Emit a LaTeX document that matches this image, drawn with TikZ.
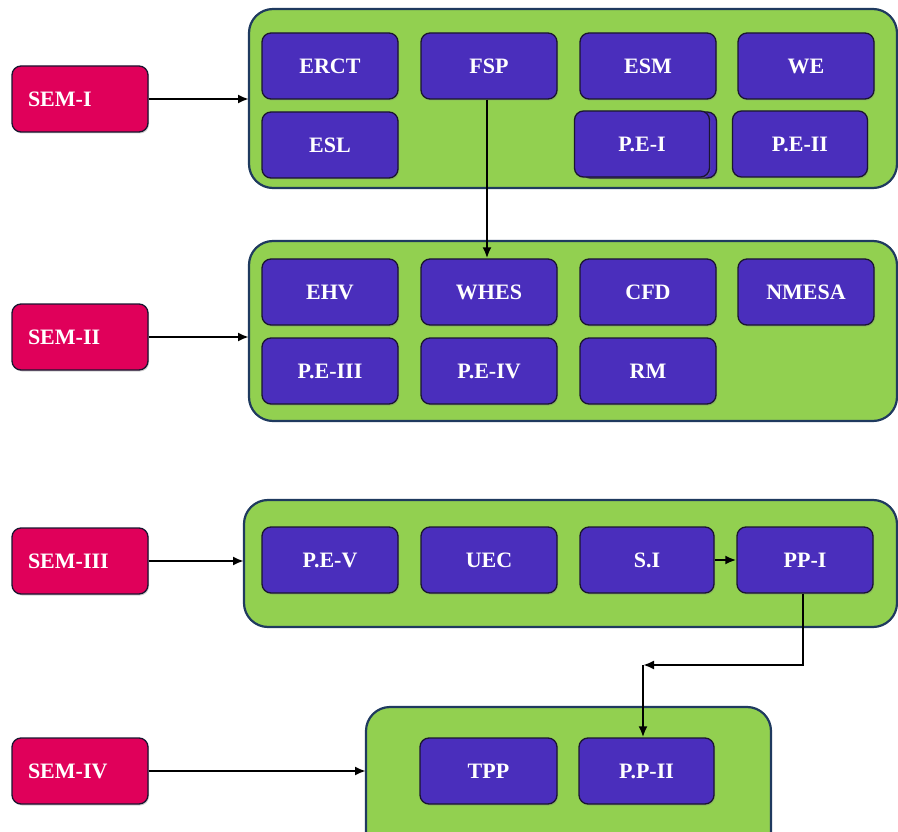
\documentclass[tikz,border=0pt]{standalone}
\usepackage{fontspec}
\setmainfont{Liberation Serif}
\usetikzlibrary{arrows.meta,shadows}
\definecolor{semred}{HTML}{E0005A}
\definecolor{subj}{HTML}{4A2EBC}
\definecolor{grn}{HTML}{92D050}
\definecolor{navy}{HTML}{1F3A5F}
\definecolor{boxline}{HTML}{1A1530}
\tikzset{
  sembox/.style={draw=boxline, line width=1.3pt, fill=semred, rounded corners=9pt,
    minimum width=136pt, minimum height=66pt, text=white, text width=104pt, align=left,
    font=\fontsize{22}{24}\selectfont\bfseries,
    drop shadow={shadow xshift=1pt, shadow yshift=-1.5pt, opacity=0.35}},
  subjbox/.style={draw=boxline, line width=1.3pt, fill=subj, rounded corners=9pt,
    minimum width=136pt, minimum height=66pt, text=white,
    font=\fontsize{22}{24}\selectfont\bfseries,
    drop shadow={shadow xshift=1pt, shadow yshift=-1.5pt, opacity=0.35}},
  container/.style={draw=navy, line width=2.2pt, fill=grn, rounded corners=24pt},
  conn/.style={-{Latex[length=11pt,width=9pt]}, line width=2.6pt, black},
}
\begin{document}
\begin{tikzpicture}[x=1pt,y=-1pt]
\useasboundingbox (0,0) rectangle (898,832);
\clip (0,0) rectangle (898,832);
% containers
\draw[container] (249,9) rectangle (897,188);
\draw[container] (249,241) rectangle (897,421);
\draw[container] (244,500) rectangle (897,627);
\draw[container] (366,707) rectangle (771,860);
\coordinate (c1w) at (249,99);
\coordinate (c2w) at (249,337);
\coordinate (c3w) at (244,561);
\coordinate (c4w) at (366,771);
% semester boxes
\node[sembox] (s1) at (80,99) {SEM-I};
\node[sembox] (s2) at (80,337) {SEM-II};
\node[sembox] (s3) at (80,561) {SEM-III};
\node[sembox] (s4) at (80,771) {SEM-IV};
% SEM-I subjects
\node[subjbox] (erct) at (330,66) {ERCT};
\node[subjbox] (fsp) at (489,66) {FSP};
\node[subjbox] (esm) at (648,66) {ESM};
\node[subjbox] (we) at (806,66) {WE};
\node[subjbox] (esl) at (330,145) {ESL};
\node[subjbox, minimum width=135pt] (pe1b) at (649,145) {};
\node[subjbox, minimum width=135pt] (pe1) at (642,144) {P.E-I};
\node[subjbox, minimum width=135pt] (pe2) at (800,144) {P.E-II};
% SEM-II subjects
\node[subjbox] (ehv) at (330,292) {EHV};
\node[subjbox] (whes) at (489,292) {WHES};
\node[subjbox] (cfd) at (648,292) {CFD};
\node[subjbox] (nmesa) at (806,292) {NMESA};
\node[subjbox] (pe3) at (330,371) {P.E-III};
\node[subjbox] (pe4) at (489,371) {P.E-IV};
\node[subjbox] (rm) at (648,371) {RM};
% SEM-III subjects
\node[subjbox] (pe5) at (330,560) {P.E-V};
\node[subjbox] (uec) at (489,560) {UEC};
\node[subjbox, minimum width=134pt] (si) at (647,560) {S.I};
\node[subjbox] (pp1) at (805,560) {PP-I};
% SEM-IV subjects
\node[subjbox, minimum width=137pt] (tpp) at (488.5,771) {TPP};
\node[subjbox, minimum width=135pt] (pp2) at (646.5,771) {P.P-II};
% connectors
\draw[conn] (s1) -- (c1w);
\draw[conn] (s2) -- (c2w);
\draw[conn] (s3) -- (c3w);
\draw[conn] (s4) -- (c4w);
\draw[conn] (fsp.south -| 487,0) -- (whes.north -| 487,0);
\draw[conn] (si) -- (pp1);
\coordinate (turn) at (643,665);
\draw[conn] (pp1.south -| 803,0) |- (turn);
\draw[conn] (turn) -- (pp2.north -| turn);
\end{tikzpicture}
\end{document}
